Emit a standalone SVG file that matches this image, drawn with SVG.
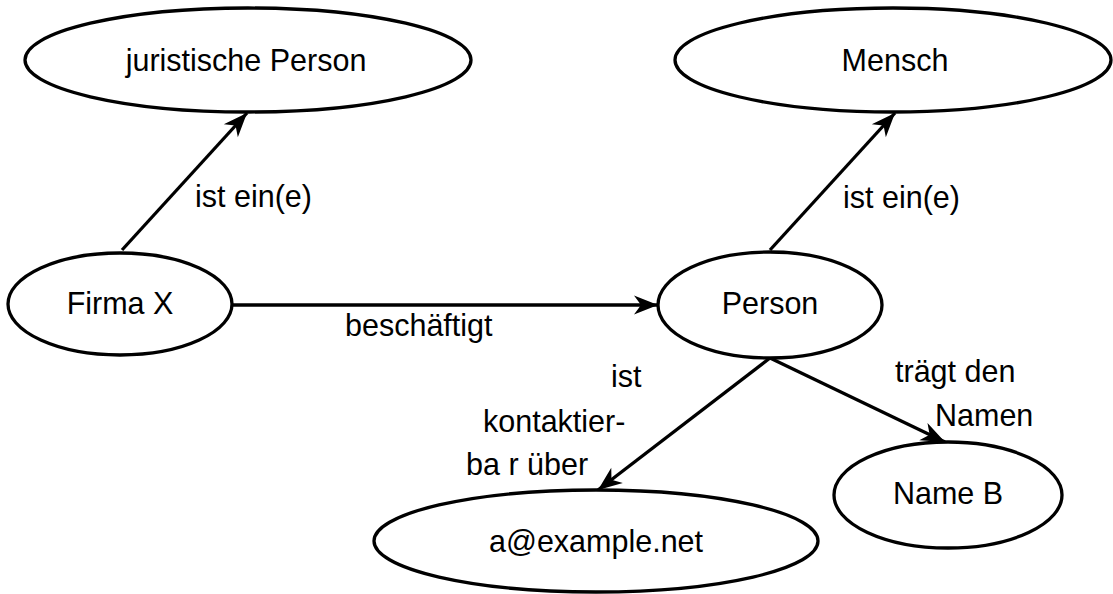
<svg xmlns="http://www.w3.org/2000/svg" width="1113" height="594" viewBox="0 0 1113 594">
  <defs>
    <marker id="arrow" markerUnits="userSpaceOnUse" markerWidth="26" markerHeight="22" refX="24" refY="9.5" orient="auto" overflow="visible">
      <path d="M0,0 L24,9.5 L0,19 L7,9.5 Z" fill="#000"/>
    </marker>
  </defs>
  <style>
    .node ellipse { fill: #fff; stroke: #000; stroke-width: 3.3; }
    .node text { font-family: "Liberation Sans", Arial, sans-serif; font-size: 30.5px; fill: #000; text-anchor: middle; }
    .edges path { fill: none; stroke: #000; stroke-width: 3.3; marker-end: url(#arrow); }
    .label { font-family: "Liberation Sans", Arial, sans-serif; font-size: 30.5px; fill: #000; }
  </style>
  <rect width="1113" height="594" fill="#fff"/>

  <g class="edges" id="connectors">
    <path d="M122,250 L247,113"/>
    <path d="M770,250 L895,113"/>
    <path d="M232,305 L658,305"/>
    <path d="M770,358 L598,490"/>
    <path d="M770,358 L945,442"/>
  </g>

  <g id="edge-labels">
    <text class="label" x="195" y="207">ist ein(e)</text>
    <text class="label" x="843" y="208">ist ein(e)</text>
    <text class="label" x="345" y="336">beschäftigt</text>
    <text class="label" x="611" y="387">ist</text>
    <text class="label" x="483" y="432">kontaktier-</text>
    <text class="label" x="466" y="475">ba r über</text>
    <text class="label" x="895" y="382">trägt den</text>
    <text class="label" x="935" y="426">Namen</text>
  </g>

  <g class="node" id="node-juristische-person">
    <ellipse cx="248" cy="60" rx="223" ry="52"/>
    <text x="246" y="71">juristische Person</text>
  </g>
  <g class="node" id="node-mensch">
    <ellipse cx="893" cy="60" rx="218" ry="52"/>
    <text x="895" y="71">Mensch</text>
  </g>
  <g class="node" id="node-firma-x">
    <ellipse cx="120" cy="304" rx="112" ry="51"/>
    <text x="120" y="314">Firma X</text>
  </g>
  <g class="node" id="node-person">
    <ellipse cx="770" cy="305" rx="112" ry="53"/>
    <text x="770" y="314">Person</text>
  </g>
  <g class="node" id="node-email">
    <ellipse cx="596" cy="541" rx="222" ry="51"/>
    <text x="596" y="552">a@example.net</text>
  </g>
  <g class="node" id="node-name-b">
    <ellipse cx="948" cy="495" rx="114" ry="53"/>
    <text x="948" y="504">Name B</text>
  </g>
</svg>
